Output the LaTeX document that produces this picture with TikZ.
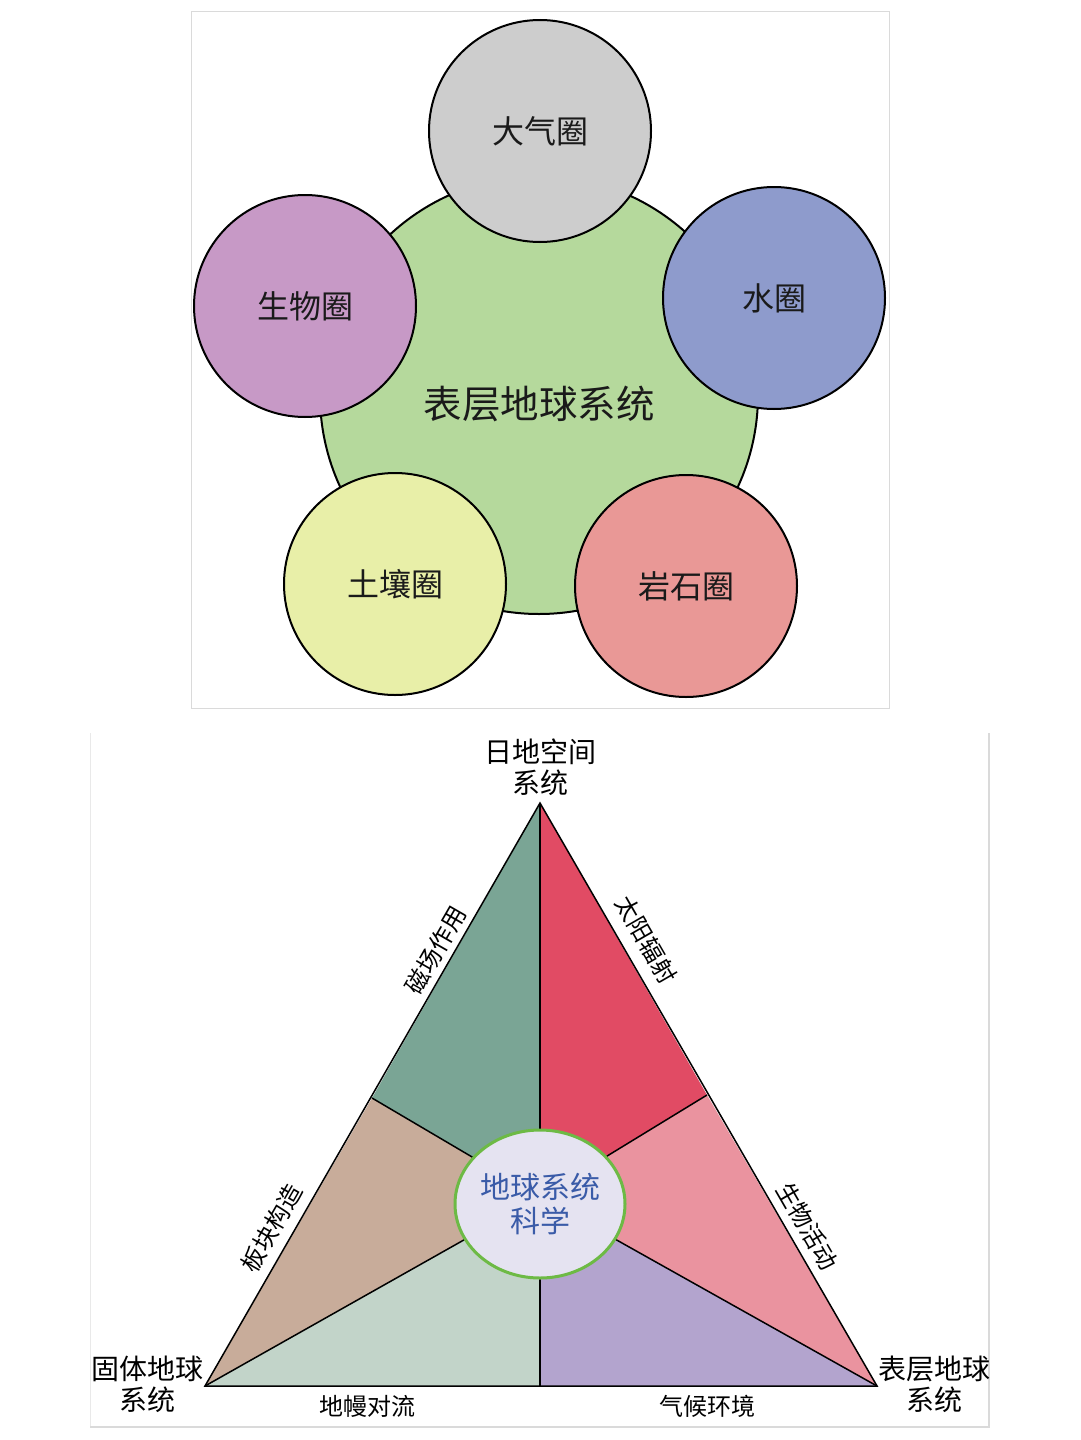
\documentclass[tikz,border=0pt]{standalone}
\usepackage{fontspec}
\setmainfont{Noto Sans CJK SC}
\usetikzlibrary{shapes.geometric}
\definecolor{cgreen}{HTML}{B5D99C}
\definecolor{cgray}{HTML}{CDCDCD}
\definecolor{cblue}{HTML}{8E9BCC}
\definecolor{cpurple}{HTML}{C799C6}
\definecolor{cyellow}{HTML}{E8EFA8}
\definecolor{cred}{HTML}{E99896}
\definecolor{tteal}{HTML}{7AA595}
\definecolor{tcrimson}{HTML}{E14B64}
\definecolor{ttan}{HTML}{C8AC9A}
\definecolor{tpale}{HTML}{C2D4C9}
\definecolor{tlav}{HTML}{B3A4CE}
\definecolor{tpink}{HTML}{EA939F}
\definecolor{corefill}{HTML}{E5E3F1}
\definecolor{coreedge}{HTML}{6DBA45}
\definecolor{coretext}{HTML}{3A5BA8}
\definecolor{framegray}{HTML}{DADADA}
\definecolor{txt}{HTML}{1A1A1A}
\begin{document}
\begin{tikzpicture}[x=1pt,y=-1pt,
  sphere/.style={circle,draw=black,line width=2pt,minimum size=222pt,inner sep=0pt,
    font=\fontsize{32}{36}\selectfont,text=txt},
  vlabel/.style={align=center,font=\fontsize{28}{31}\selectfont,text=black},
  elabel/.style={font=\fontsize{24}{28}\selectfont,text=black,inner sep=0pt},
  divline/.style={line width=1.5pt,draw=black}]
\useasboundingbox (0,0) rectangle (1080,1440);
\fill[white] (0,0) rectangle (1080,1440);
% ---------- top panel ----------
\draw[framegray,line width=1pt] (191,11) rectangle (889,708);
\node[circle,draw=black,line width=2pt,fill=cgreen,minimum size=438pt,inner sep=0pt] (core1) at (539,395) {};
\node[sphere,fill=cgray] (atm) at (540,131) {大气圈};
\node[sphere,fill=cblue] (hyd) at (774,298) {水圈};
\node[sphere,fill=cpurple] (bio) at (305,306) {生物圈};
\node[sphere,fill=cyellow] (soil) at (395,584) {土壤圈};
\node[sphere,fill=cred] (lith) at (686,586) {岩石圈};
\node[font=\fontsize{38.5}{42}\selectfont,text=txt] (coretxt) at (539,404) {表层地球系统};
% ---------- bottom panel ----------
\draw[framegray!60,line width=1pt] (90,733) -- (90,1427);
\draw[framegray,line width=2pt] (90,1427) -- (989,1427) -- (989,733);
\coordinate (A) at (540,803);
\coordinate (BL) at (205,1386);
\coordinate (BR) at (877,1386);
\coordinate (PL) at (372,1098);
\coordinate (PR) at (707,1095);
\coordinate (BM) at (540,1386);
\coordinate (H) at (540,1197);
\fill[tteal] (A) -- (PL) -- (H) -- cycle;
\fill[tcrimson] (A) -- (PR) -- (H) -- cycle;
\fill[ttan] (PL) -- (BL) -- (H) -- cycle;
\fill[tpale] (BL) -- (BM) -- (H) -- cycle;
\fill[tlav] (BM) -- (BR) -- (H) -- cycle;
\fill[tpink] (BR) -- (PR) -- (H) -- cycle;
\draw[divline] (A) -- (H);
\draw[divline] (PL) -- (H);
\draw[divline] (PR) -- (H);
\draw[divline] (BL) -- (H);
\draw[divline] (BR) -- (H);
\draw[divline] (BM) -- (H);
\draw[divline,line join=miter] (A) -- (BL) -- (BR) -- cycle;
\node[ellipse,draw=coreedge,line width=3pt,fill=corefill,minimum width=170pt,minimum height=148pt,
  inner sep=0pt,align=center,font=\fontsize{30}{34}\selectfont,text=coretext] (core2) at (540,1204) {地球系统\\科学};
% vertex labels
\node[vlabel] (vtop) at (540,767) {日地空间\\系统};
\node[vlabel] (vleft) at (147,1384) {固体地球\\系统};
\node[vlabel] (vright) at (934,1384) {表层地球\\系统};
% edge labels
\node[elabel,rotate=60] (e1) at (436,950) {磁场作用};
\node[elabel,rotate=60] (e2) at (272,1228) {板块构造};
\node[elabel,rotate=-60] (e3) at (646,940) {太阳辐射};
\node[elabel,rotate=-60] (e4) at (807,1226) {生物活动};
\node[elabel] (e5) at (367,1406) {地幔对流};
\node[elabel] (e6) at (707,1406) {气候环境};
\end{tikzpicture}
\end{document}
